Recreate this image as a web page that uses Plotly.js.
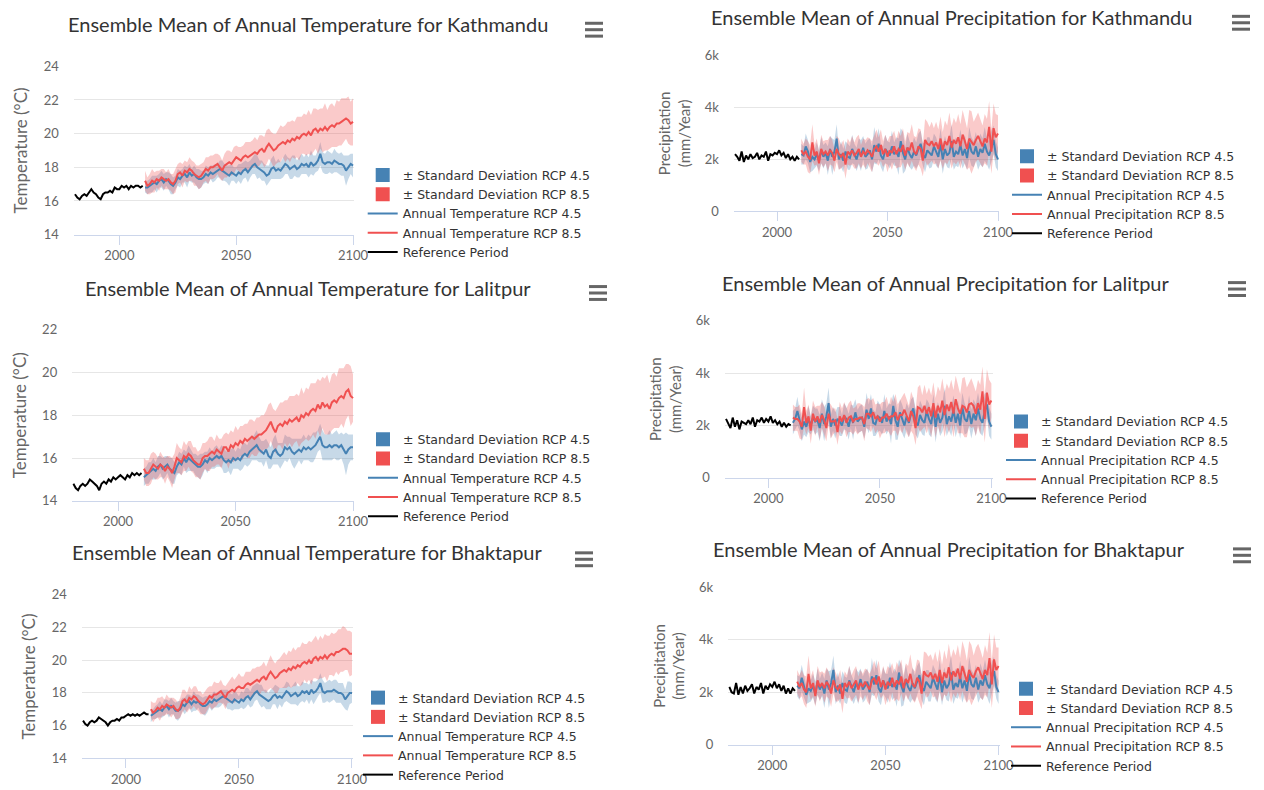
<!DOCTYPE html>
<html>
<head>
<meta charset="utf-8">
<script src="https://cdn.plot.ly/plotly-3.0.1.min.js"></script>
<style>
html,body{margin:0;padding:0;background:#fff;}
#chart{width:1264px;height:790px;}
</style>
</head>
<body>
<div id="chart"></div>
<script>
// ---------- categories / ticks ----------
const refStartYear = 1981, refEndYear = 2010, rcpStartYear = 2011, rcpEndYear = 2100;
const xTickVals = [2000, 2050, 2100];
const tempTickVals = [14, 16, 18, 20, 22, 24];
const precipTickVals = [0, 2000, 4000, 6000];
const precipTickText = ['0', '2k', '4k', '6k'];

// ---------- Kathmandu temperature (°C) ----------
const ktmTempRef = [16.4,16.2,16.1,16.3,16.4,16.3,16.5,16.7,16.5,16.4,16.2,16.1,16.4,16.5,16.5,16.6,16.5,16.8,16.7,16.7,16.9,16.8,16.9,16.7,16.9,16.8,16.9,16.9,16.8,16.9];
const ktmTemp45 = [
16.8,16.8,16.9,17.0,17.1,17.0,17.2,17.3,17.1,17.3,
17.2,17.0,16.9,17.1,17.4,17.3,17.5,17.6,17.4,17.7,
17.5,17.6,17.4,17.3,17.3,17.4,17.6,17.5,17.7,17.6,
17.7,17.8,17.9,17.8,17.7,17.6,17.5,17.7,17.6,17.5,
17.7,17.6,17.8,17.9,17.7,17.9,18.1,18.2,18.0,17.9,
17.8,17.7,17.5,17.6,17.9,18.0,17.8,17.9,17.8,18.0,
18.2,18.1,17.9,18.0,18.1,17.9,18.0,18.2,18.1,18.2,
18.0,18.3,18.1,18.2,18.4,18.8,18.3,18.2,18.3,18.3,
18.2,18.4,18.3,18.2,18.2,18.1,17.8,18.0,18.2,18.1];
const ktmTemp85 = [
17.2,16.9,17.0,17.2,17.1,17.3,17.2,17.4,17.3,17.2,
17.3,17.1,17.0,17.2,17.6,17.7,17.5,17.8,17.7,17.9,
17.8,17.6,17.5,17.4,17.5,17.7,17.9,17.8,18.0,18.0,
18.1,18.2,18.0,17.8,18.1,18.2,18.3,18.2,18.4,18.6,
18.5,18.4,18.6,18.7,18.6,18.7,18.8,18.9,18.8,19.0,
19.1,18.9,19.2,19.4,19.2,19.0,19.1,19.3,19.4,19.5,
19.4,19.6,19.5,19.7,19.6,19.8,19.7,19.9,20.0,19.9,
20.1,19.9,20.2,20.3,20.1,20.3,20.2,20.4,20.2,20.4,
20.5,20.4,20.6,20.6,20.7,20.8,20.9,20.8,20.6,20.7];
const ktmTempSd45 = [
0.3,0.4,0.4,0.5,0.4,0.5,0.4,0.5,0.5,0.4,
0.5,0.6,0.5,0.4,0.5,0.5,0.4,0.5,0.6,0.5,
0.4,0.5,0.5,0.6,0.5,0.4,0.5,0.5,0.4,0.5,
0.5,0.4,0.5,0.6,0.5,0.5,0.6,0.5,0.4,0.5,
0.5,0.6,0.5,0.5,0.6,0.5,0.5,0.6,0.7,0.5,
0.6,0.5,0.6,0.5,0.6,0.7,0.5,0.6,0.5,0.6,
0.6,0.5,0.6,0.7,0.6,0.5,0.6,0.6,0.5,0.6,
0.6,0.7,0.6,0.5,0.6,0.7,0.6,0.6,0.7,0.6,
0.6,0.7,0.6,0.6,0.7,0.6,0.9,0.7,0.6,0.7];
const ktmTempSd85 = [
0.6,0.5,0.6,0.7,0.6,0.5,0.6,0.5,0.6,0.5,
0.6,0.5,0.6,0.7,0.6,0.6,0.7,0.6,0.6,0.7,
0.6,0.7,0.6,0.7,0.7,0.6,0.7,0.8,0.7,0.7,
0.7,0.6,0.7,0.6,0.7,0.8,0.7,0.7,0.8,0.7,
0.7,0.8,0.7,0.8,0.9,0.8,0.8,0.9,0.8,0.9,
0.8,0.9,1.0,0.9,0.9,1.0,0.9,1.0,1.1,0.9,
1.1,1.1,1.2,1.1,1.1,1.2,1.3,1.1,1.2,1.2,
1.3,1.2,1.3,1.2,1.3,1.2,1.3,1.4,1.2,1.3,
1.3,1.2,1.4,1.3,1.4,1.3,1.2,1.4,1.3,1.4];

// ---------- Lalitpur temperature (°C) ----------
const ltpTempRef = [14.8,14.6,14.5,14.7,14.8,14.7,14.8,15.0,14.9,14.8,14.7,14.5,14.8,14.9,14.8,15.0,14.9,15.1,15.0,15.1,15.2,15.1,15.0,15.2,15.1,15.3,15.2,15.3,15.2,15.3];
const ltpTemp45 = [
15.1,15.2,15.3,15.4,15.5,15.4,15.6,15.7,15.5,15.6,
15.7,15.5,15.4,15.3,15.6,15.8,15.7,16.0,15.8,16.0,
15.9,15.8,15.7,15.6,15.6,15.7,15.9,15.8,16.0,15.9,
16.0,16.1,16.0,16.1,15.9,15.8,15.9,15.8,16.0,15.9,
16.0,15.9,16.1,16.2,16.1,16.3,16.4,16.5,16.6,16.4,
16.3,16.2,16.4,16.1,16.0,16.3,16.4,16.2,16.1,16.2,
16.5,16.4,16.5,16.3,16.2,16.3,16.4,16.3,16.5,16.4,
16.5,16.4,16.5,16.6,16.8,17.0,16.6,16.5,16.5,16.6,
16.5,16.6,16.6,16.5,16.6,16.4,16.2,16.4,16.5,16.5];
const ltpTemp85 = [
15.5,15.3,15.3,15.5,15.7,15.6,15.5,15.7,15.6,15.4,
15.6,15.5,15.3,15.6,16.0,15.9,15.8,16.1,16.0,16.2,
16.1,15.9,15.8,15.7,15.7,16.0,16.1,16.1,16.2,16.3,
16.2,16.4,16.3,16.2,16.5,16.5,16.3,16.6,16.5,16.7,
16.6,16.8,16.7,16.9,16.8,16.9,17.0,16.9,17.0,17.1,
17.1,17.2,17.3,17.5,17.7,17.4,17.2,17.5,17.6,17.5,
17.7,17.6,17.8,17.7,17.8,17.9,17.7,18.0,17.9,18.1,
18.0,18.2,18.3,18.2,18.5,18.3,18.6,18.4,18.5,18.3,
18.6,18.7,18.6,18.8,18.9,18.8,19.1,19.2,18.9,18.8];
const ltpTempSd45 = [
0.4,0.4,0.5,0.4,0.5,0.4,0.5,0.4,0.5,0.5,
0.4,0.5,0.6,0.5,0.4,0.5,0.5,0.4,0.5,0.6,
0.5,0.4,0.5,0.5,0.6,0.5,0.4,0.5,0.5,0.4,
0.5,0.5,0.4,0.5,0.6,0.5,0.5,0.6,0.5,0.4,
0.5,0.5,0.6,0.5,0.5,0.6,0.5,0.6,0.7,0.6,
0.5,0.6,0.5,0.6,0.5,0.6,0.7,0.5,0.6,0.5,
0.6,0.6,0.5,0.6,0.7,0.6,0.5,0.6,0.6,0.5,
0.6,0.6,0.7,0.6,0.5,0.6,0.7,0.6,0.6,0.7,
0.6,0.6,0.7,0.6,0.6,0.7,1.0,0.7,0.6,0.6];
const ltpTempSd85 = [
0.5,0.6,0.6,0.7,0.6,0.6,0.5,0.6,0.5,0.6,
0.5,0.6,0.7,0.6,0.7,0.6,0.6,0.7,0.6,0.6,
0.7,0.6,0.7,0.6,0.7,0.7,0.6,0.7,0.8,0.7,
0.6,0.7,0.6,0.7,0.6,0.7,0.8,0.7,0.7,0.8,
0.7,0.7,0.8,0.7,0.8,0.9,0.8,0.8,0.9,0.8,
0.9,0.8,0.9,1.0,0.9,0.9,1.0,0.9,1.0,1.1,
1.0,1.1,1.1,1.2,1.1,1.1,1.2,1.3,1.1,1.2,
1.2,1.3,1.2,1.3,1.2,1.3,1.2,1.3,1.4,1.2,
1.3,1.3,1.2,1.4,1.3,1.4,1.3,1.2,1.4,1.1];

// ---------- Bhaktapur temperature (°C) ----------
const bktTempRef = [16.3,16.1,16.0,16.2,16.3,16.2,16.3,16.5,16.4,16.3,16.2,16.0,16.2,16.3,16.3,16.4,16.3,16.5,16.5,16.6,16.7,16.6,16.7,16.6,16.7,16.6,16.7,16.8,16.7,16.7];
const bktTemp45 = [
16.6,16.7,16.8,16.9,17.0,16.9,17.1,17.2,17.0,17.2,
17.1,16.9,16.9,17.0,17.3,17.2,17.4,17.5,17.3,17.5,
17.4,17.5,17.3,17.2,17.2,17.3,17.5,17.4,17.6,17.5,
17.6,17.7,17.8,17.7,17.6,17.5,17.4,17.6,17.5,17.4,
17.6,17.5,17.7,17.8,17.6,17.8,18.0,18.1,17.9,17.8,
17.7,17.6,17.5,17.6,17.8,17.9,17.7,17.8,17.7,17.9,
18.1,18.0,17.8,17.9,18.0,17.8,17.9,18.1,18.0,18.1,
17.9,18.2,18.0,18.1,18.3,18.6,18.1,18.0,18.1,18.1,
18.1,18.2,18.1,18.0,18.0,17.9,17.6,17.8,18.0,18.0];
const bktTemp85 = [
17.0,16.8,16.9,17.1,17.0,17.2,17.1,17.3,17.2,17.1,
17.2,17.0,16.9,17.1,17.5,17.6,17.4,17.7,17.6,17.8,
17.7,17.5,17.4,17.3,17.4,17.6,17.8,17.7,17.9,17.9,
18.0,18.1,17.9,17.7,18.0,18.1,18.2,18.1,18.3,18.4,
18.3,18.3,18.5,18.6,18.5,18.6,18.7,18.8,18.7,18.9,
19.0,18.8,19.1,19.3,19.1,18.9,19.0,19.2,19.3,19.4,
19.3,19.5,19.4,19.6,19.5,19.7,19.6,19.8,19.9,19.8,
20.0,19.8,20.1,20.2,20.0,20.2,20.1,20.3,20.1,20.3,
20.4,20.3,20.5,20.5,20.6,20.7,20.7,20.6,20.4,20.4];
const bktTempSd45 = [
0.4,0.3,0.4,0.4,0.5,0.4,0.5,0.4,0.5,0.5,
0.4,0.5,0.6,0.5,0.4,0.5,0.5,0.4,0.5,0.6,
0.5,0.4,0.5,0.5,0.6,0.5,0.4,0.5,0.5,0.4,
0.5,0.5,0.4,0.5,0.6,0.5,0.5,0.6,0.5,0.4,
0.5,0.5,0.6,0.5,0.5,0.6,0.5,0.5,0.6,0.7,
0.5,0.6,0.5,0.6,0.5,0.6,0.7,0.5,0.6,0.5,
0.6,0.6,0.5,0.6,0.7,0.6,0.5,0.6,0.6,0.5,
0.6,0.6,0.7,0.6,0.5,0.6,0.7,0.6,0.6,0.7,
0.6,0.6,0.7,0.6,0.6,0.7,0.6,0.9,0.7,0.6];
const bktTempSd85 = [
0.5,0.6,0.5,0.6,0.7,0.6,0.5,0.6,0.5,0.6,
0.5,0.6,0.5,0.6,0.7,0.6,0.6,0.7,0.6,0.6,
0.7,0.6,0.7,0.6,0.7,0.7,0.6,0.7,0.8,0.7,
0.6,0.7,0.6,0.7,0.6,0.7,0.8,0.7,0.7,0.8,
0.7,0.7,0.8,0.7,0.8,0.9,0.8,0.8,0.9,0.8,
0.9,0.8,0.9,1.0,0.9,0.9,1.0,0.9,1.0,1.1,
1.0,1.1,1.1,1.2,1.1,1.1,1.2,1.3,1.1,1.2,
1.2,1.3,1.2,1.3,1.2,1.3,1.2,1.3,1.4,1.2,
1.3,1.3,1.2,1.4,1.3,1.4,1.3,1.2,1.4,1.3];

// ---------- Kathmandu precipitation (mm/Year) ----------
const ktmPrecRef = [2200,2100,1950,2300,1900,2150,2000,2200,2050,2100,2250,2000,2150,2100,2300,1950,2200,2150,2250,2200,2350,2150,2250,2050,2200,2000,2100,1950,2100,2000];
const ktmPrec45 = [
2200,2150,2500,2300,1900,2100,2000,2200,1950,2350,
2100,2250,1950,2400,2100,2300,2800,2000,2200,1950,
2300,2100,2050,2400,2200,2000,2300,2150,2450,2100,
2200,2350,2000,2550,2300,2600,2150,2000,2400,2250,
2150,2500,2200,2300,2100,2700,2250,2000,2450,2200,
2050,2300,2150,2400,2600,2200,2050,2350,2250,2150,
2500,2300,2100,2600,2000,2400,2150,2250,2700,2100,
2300,2200,2550,2150,2400,2050,2650,2300,2200,2500,
2100,2400,2250,2600,2300,2150,2500,2750,2200,2000];
const ktmPrec85 = [
2350,2200,2300,2100,2000,2650,2150,2300,1850,2400,
2200,2300,2150,2350,2250,1950,2400,2200,2100,2250,
1800,2300,2200,2350,2150,2250,2400,2100,2300,2200,
2350,2250,2100,2400,2500,2300,2550,2200,2400,2100,
2350,2250,2500,2200,2400,2300,2550,2150,2450,2350,
2650,2300,2200,2500,2400,1950,2750,2600,2550,2700,
2500,2650,2400,2800,2350,2700,2550,2900,2450,2750,
2600,2850,2500,2950,2700,2400,2800,2650,2550,2750,
2900,2700,2500,2800,2650,3250,2300,3200,2850,3000];
const ktmPrecSd45 = [
400,350,500,450,400,550,350,450,400,500,
450,400,550,500,700,450,550,400,500,450,
400,500,450,550,400,450,500,600,450,500,
550,450,500,700,500,600,450,500,550,450,
500,600,450,550,700,500,800,450,550,500,
450,550,500,600,500,450,550,500,600,450,
500,550,450,600,550,500,450,600,650,500,
550,500,600,500,550,450,600,550,500,550,
500,600,550,650,500,550,600,550,500,450];
const ktmPrecSd85 = [
450,400,500,600,550,700,400,500,450,550,
500,450,600,550,500,450,500,600,450,500,
550,500,450,550,500,600,550,450,500,550,
500,550,600,500,650,550,600,500,550,600,
550,650,600,550,700,600,650,550,600,650,
700,600,650,700,750,600,800,850,700,750,
700,800,750,850,700,800,750,900,800,850,
800,900,850,950,900,800,1100,1200,900,850,
900,850,800,950,900,1000,850,950,900,700];

// ---------- Lalitpur precipitation (mm/Year) ----------
const ltpPrecRef = [2250,2050,1900,2300,1950,2200,1850,2150,2100,2050,2200,2050,2300,1950,2200,2150,2300,2100,2250,2150,2350,2100,2200,2050,2150,1950,2100,1950,2050,2000];
const ltpPrec45 = [
2100,2250,2550,2200,1850,2150,1950,2250,2000,2300,
2150,2200,1900,2450,2050,2350,2850,1950,2250,2000,
2250,2150,2000,2350,2250,1950,2350,2100,2500,2150,
2250,2300,1950,2600,2250,2650,2100,2050,2350,2300,
2100,2550,2150,2350,2050,2750,2200,1950,2500,2250,
2000,2350,2100,2450,2650,2150,2000,2400,2200,2100,
2550,2250,2050,2650,1950,2450,2100,2300,2750,2050,
2350,2150,2600,2100,2450,2000,2700,2250,2150,2550,
2050,2450,2200,2650,2250,2100,2550,2800,2150,1950];
const ltpPrec85 = [
2300,2250,2250,2150,1950,2700,2100,2350,1800,2450,
2150,2350,2100,2400,2200,1900,2450,2150,2150,2200,
1750,2350,2150,2400,2100,2300,2350,2150,2250,2250,
2300,2300,2050,2450,2450,2350,2500,2250,2350,2150,
2300,2300,2450,2250,2350,2350,2500,2200,2400,2400,
2600,2350,2150,2550,2350,1900,2700,2650,2500,2750,
2450,2700,2350,2850,2300,2750,2500,2950,2400,2800,
2550,2900,2450,3000,2650,2450,2750,2700,2500,2800,
2850,2750,2450,2850,2600,3300,2250,3250,2800,2950];
const ltpPrecSd45 = [
450,400,550,400,450,500,400,500,350,450,
500,450,500,550,650,500,600,450,450,500,
450,550,400,500,450,500,450,650,500,450,
500,500,450,650,550,550,500,450,600,500,
450,650,500,500,750,450,750,500,500,550,
500,500,550,550,450,500,500,550,550,500,
450,600,500,550,600,450,500,550,700,450,
500,550,550,550,500,500,550,600,450,600,
550,550,600,600,550,500,650,500,550,500];
const ltpPrecSd85 = [
500,450,450,650,500,750,450,450,500,500,
550,400,650,500,550,500,450,650,500,450,
500,550,500,500,550,550,600,500,450,600,
550,500,650,550,600,600,550,550,500,650,
600,600,650,500,750,550,700,600,550,700,
650,650,600,750,700,650,750,900,650,800,
750,750,800,800,750,750,800,850,850,800,
850,850,900,900,950,750,1050,1150,950,800,
950,800,850,900,950,950,900,900,950,650];

// ---------- Bhaktapur precipitation (mm/Year) ----------
const bktPrecRef = [2200,2000,1950,2350,1900,2200,1950,2250,2050,2150,2300,1950,2200,2100,2350,1950,2250,2100,2300,2200,2400,2150,2300,2050,2250,1950,2150,1950,2150,2050];
const bktPrec45 = [
2250,2150,2550,2250,1900,2150,2050,2250,1950,2400,
2100,2300,1950,2450,2100,2350,2850,2000,2250,1950,
2350,2100,2050,2450,2200,2000,2350,2150,2500,2100,
2250,2400,2000,2600,2300,2650,2150,2000,2450,2250,
2150,2550,2200,2350,2100,2750,2250,2000,2500,2200,
2050,2350,2150,2450,2650,2200,2050,2400,2250,2150,
2550,2300,2100,2650,2000,2450,2150,2300,2750,2100,
2350,2200,2600,2150,2450,2050,2700,2300,2200,2550,
2100,2450,2250,2650,2300,2150,2550,2800,2200,2000];
const bktPrec85 = [
2400,2200,2350,2100,2000,2700,2150,2350,1850,2450,
2200,2350,2150,2400,2250,1950,2450,2200,2100,2300,
1750,2350,2200,2400,2150,2300,2450,2100,2350,2200,
2400,2250,2100,2450,2550,2300,2600,2200,2450,2100,
2400,2250,2550,2200,2450,2300,2600,2150,2500,2350,
2700,2300,2200,2550,2400,1950,2800,2650,2600,2750,
2500,2700,2400,2850,2350,2750,2550,2950,2450,2800,
2600,2900,2500,3000,2700,2400,2850,2650,2550,2800,
2950,2700,2500,2850,2650,3300,2300,3250,2850,3000];
const bktPrecSd45 = [
400,450,500,450,350,550,400,450,450,500,
400,450,550,450,700,500,550,450,500,400,
450,500,500,550,450,450,550,600,400,500,
550,500,500,700,450,600,500,500,500,450,
550,600,500,550,650,500,800,500,550,450,
450,600,500,550,500,500,550,450,600,500,
500,550,500,600,500,500,450,650,650,550,
550,450,600,550,550,450,650,550,500,500,
500,650,550,600,500,600,600,550,450,450];
const bktPrecSd85 = [
450,450,500,550,600,700,450,500,400,550,
550,450,550,550,500,500,500,550,450,550,
550,450,450,600,500,550,550,500,500,500,
500,600,600,450,650,600,600,450,550,600,
600,650,550,550,700,650,650,500,600,650,
750,600,600,700,800,600,750,850,750,700,
700,850,750,800,700,850,700,900,850,850,
800,900,800,950,950,800,1100,1150,850,900,
900,900,800,950,850,1000,900,950,850,700];

// ---------- styling ----------
const FONT = 'Lato, "Open Sans", "DejaVu Sans", sans-serif';
const LEGEND_FONT = '"DejaVu Sans", "Open Sans", sans-serif';
const BLUE = '#4682B4', RED = '#F05050';
const BLUE_BAND = 'rgba(70,130,180,0.3)', RED_BAND = 'rgba(240,80,80,0.3)';
const W = 1264, H = 790;

function yearRange(a, b) { const r = []; for (let y = a; y <= b; y++) r.push(y); return r; }
const refYears = yearRange(refStartYear, refEndYear);
const rcpYears = yearRange(rcpStartYear, rcpEndYear);

// panel table (positions in page pixels)
const panels = [
  {city:'Kathmandu', kind:'temp', ref:ktmTempRef, r45:ktmTemp45, r85:ktmTemp85, s45:ktmTempSd45, s85:ktmTempSd85,
   xpx:[73.8,354.2], ypx:[67,237], yrange:[14,24], tpos:[307.5,24], menu:[594,30], leg:[402.7,174]},
  {city:'Kathmandu', kind:'prec', ref:ktmPrecRef, r45:ktmPrec45, r85:ktmPrec85, s45:ktmPrecSd45, s85:ktmPrecSd85,
   xpx:[733.9,999.1], ypx:[56,213.5], yrange:[0,6000], tpos:[951,17], menu:[1241,23], leg:[1047,155]},
  {city:'Lalitpur', kind:'temp', ref:ltpTempRef, r45:ltpTemp45, r85:ltpTemp85, s45:ltpTempSd45, s85:ltpTempSd85,
   xpx:[72.2,354.2], ypx:[333,506], yrange:[14,22], tpos:[307.5,291], menu:[598,296], leg:[403,441]},
  {city:'Lalitpur', kind:'prec', ref:ltpPrecRef, r45:ltpPrec45, r85:ltpPrec85, s45:ltpPrecSd45, s85:ltpPrecSd85,
   xpx:[724.9,992.5], ypx:[324,482.7], yrange:[0,6000], tpos:[945,286], menu:[1237,292], leg:[1041,423]},
  {city:'Bhaktapur', kind:'temp', ref:bktTempRef, r45:bktTemp45, r85:bktTemp85, s45:bktTempSd45, s85:bktTempSd85,
   xpx:[81.9,353.1], ypx:[601,766], yrange:[14,24], tpos:[307,558], menu:[584,565], leg:[398,702]},
  {city:'Bhaktapur', kind:'prec', ref:bktPrecRef, r45:bktPrec45, r85:bktPrec85, s45:bktPrecSd45, s85:bktPrecSd85,
   xpx:[728.2,999.7], ypx:[593.3,752.3], yrange:[0,6000], tpos:[949,555], menu:[1242,561], leg:[1046,693]}
];

const traces = [];
const layout = {
  width: W, height: H,
  margin: {l:0, r:0, t:0, b:0},
  paper_bgcolor: '#fff', plot_bgcolor: 'rgba(0,0,0,0)',
  font: {family: FONT, color: '#333'},
  hovermode: false,
  annotations: [], shapes: []
};

function band(mean, sd, color, xa, ya) {
  const up = mean.map((v, i) => v + sd[i]);
  const lo = mean.map((v, i) => v - sd[i]);
  return {
    type: 'scatter', mode: 'lines', x: rcpYears.concat(rcpYears.slice().reverse()),
    y: up.concat(lo.slice().reverse()), fill: 'toself', fillcolor: color,
    line: {width: 0, color: color}, showlegend: false, hoverinfo: 'skip', xaxis: xa, yaxis: ya
  };
}

panels.forEach((p, i) => {
  const n = i === 0 ? '' : String(i + 1);
  const xa = 'x' + n, ya = 'y' + n, lg = 'legend' + n;
  const varName = p.kind === 'temp' ? 'Annual Temperature' : 'Annual Precipitation';

  traces.push(band(p.r45, p.s45, BLUE_BAND, xa, ya));
  traces.push(band(p.r85, p.s85, RED_BAND, xa, ya));
  traces.push({type:'scatter', mode:'markers', x:[null], y:[null], xaxis:xa, yaxis:ya, legend:lg,
    name:'± Standard Deviation RCP 4.5', marker:{symbol:'square', size:14, color:BLUE}});
  traces.push({type:'scatter', mode:'markers', x:[null], y:[null], xaxis:xa, yaxis:ya, legend:lg,
    name:'± Standard Deviation RCP 8.5', marker:{symbol:'square', size:14, color:RED}});
  traces.push({type:'scatter', mode:'lines', x:rcpYears, y:p.r45, xaxis:xa, yaxis:ya, legend:lg,
    name:varName + ' RCP 4.5', line:{color:BLUE, width:2}});
  traces.push({type:'scatter', mode:'lines', x:rcpYears, y:p.r85, xaxis:xa, yaxis:ya, legend:lg,
    name:varName + ' RCP 8.5', line:{color:RED, width:2}});
  traces.push({type:'scatter', mode:'lines', x:refYears, y:p.ref, xaxis:xa, yaxis:ya, legend:lg,
    name:'Reference Period', line:{color:'#000', width:2}});

  layout['xaxis' + n] = {
    domain: [p.xpx[0] / W, p.xpx[1] / W], anchor: ya, range: [1980.5, 2100.5],
    tickvals: xTickVals, showgrid: false, zeroline: false,
    showline: true, linecolor: '#ccd6eb', linewidth: 1,
    ticks: 'outside', ticklen: 9, tickcolor: '#ccd6eb', tickwidth: 1,
    tickfont: {family: FONT, size: 13, color: '#666'}, fixedrange: true
  };
  const isTemp = p.kind === 'temp';
  const yax = {
    domain: [1 - p.ypx[1] / H, 1 - p.ypx[0] / H], anchor: xa, range: p.yrange,
    showgrid: true, gridcolor: '#e6e6e6', gridwidth: 1, zeroline: false, showline: false,
    ticks: '', ticklabelstandoff: 14,
    tickfont: {family: FONT, size: 13, color: '#666'}, fixedrange: true,
    title: {text: isTemp ? 'Temperature (°C)' : 'Precipitation<br>(mm/Year)',
            font: {family: FONT, size: isTemp ? 17 : 15, color: '#666'}, standoff: isTemp ? 11 : 10}
  };
  if (isTemp) { yax.tickvals = tempTickVals; }
  else { yax.tickvals = precipTickVals; yax.ticktext = precipTickText; }
  layout['yaxis' + n] = yax;

  layout[lg] = {
    x: (p.leg[0] - 40) / W, xanchor: 'left', y: 1 - (p.leg[1] - 12) / H, yanchor: 'top',
    bgcolor: 'rgba(0,0,0,0)', borderwidth: 0, traceorder: 'normal', itemwidth: 30,
    font: {family: LEGEND_FONT, size: 12.5, color: '#333'}
  };

  layout.annotations.push({
    text: 'Ensemble Mean of Annual ' + (isTemp ? 'Temperature' : 'Precipitation') + ' for ' + p.city,
    xref: 'paper', yref: 'paper', x: p.tpos[0] / W, y: 1 - p.tpos[1] / H,
    xanchor: 'center', yanchor: 'middle', showarrow: false,
    font: {family: FONT, size: 20, color: '#333'}
  });

  [-6.5, 0, 6.5].forEach(dy => {
    layout.shapes.push({type: 'line', xref: 'paper', yref: 'paper',
      x0: (p.menu[0] - 9) / W, x1: (p.menu[0] + 9) / W,
      y0: 1 - (p.menu[1] + dy) / H, y1: 1 - (p.menu[1] + dy) / H,
      line: {color: '#666', width: 3}});
  });
});

Plotly.newPlot('chart', traces, layout, {displayModeBar: false, responsive: false});
</script>
</body>
</html>
